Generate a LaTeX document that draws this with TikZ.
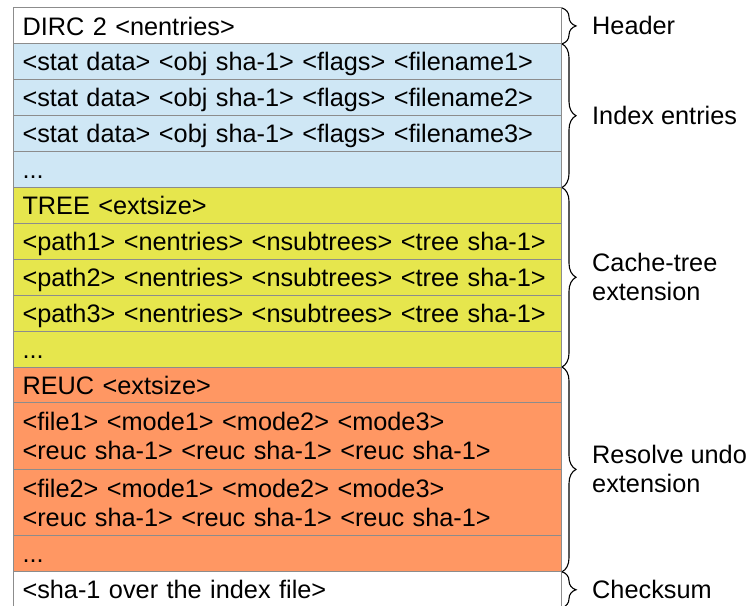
\documentclass[tikz,border=0pt]{standalone}
\usepackage{fontspec}
\setmainfont{Liberation Sans}
\usetikzlibrary{decorations.pathreplacing,calc}

\definecolor{entryblue}{RGB}{207,231,245}
\definecolor{treeyellow}{RGB}{230,230,77}
\definecolor{reucorange}{RGB}{255,151,99}
\definecolor{rulegray}{RGB}{140,140,140}

\begin{document}
\begin{tikzpicture}[x=1bp,y=-1bp,
  every node/.style={font=\fontsize{25.3bp}{29bp}\selectfont},
  field/.style={draw=rulegray, line width=1bp, anchor=north west, outer sep=0pt,
    minimum width=548bp, text width=529bp, inner xsep=9.5bp, inner ysep=0pt,
    align=left},
  one/.style={field, minimum height=35.9bp, text height=18.2bp, text depth=0pt},
  two/.style={field, minimum height=66.5bp},
  brace/.style={decorate, decoration={brace, amplitude=14bp, raise=1bp},
    line width=1.1bp},
  tag/.style={anchor=west, inner sep=0pt, align=left}
]
\clip (0,0) rectangle (751,606);

% file header
\node[one, fill=white] (hd) at (13,8) {DIRC 2 <nentries>};

% index entries
\node[one, fill=entryblue] (e1) at (hd.south west) {<stat data> <obj sha-1> <flags> <filename1>};
\node[one, fill=entryblue] (e2) at (e1.south west) {<stat data> <obj sha-1> <flags> <filename2>};
\node[one, fill=entryblue] (e3) at (e2.south west) {<stat data> <obj sha-1> <flags> <filename3>};
\node[one, fill=entryblue] (e4) at (e3.south west) {...};

% cache-tree extension
\node[one, fill=treeyellow] (t0) at (e4.south west) {TREE <extsize>};
\node[one, fill=treeyellow] (t1) at (t0.south west) {<path1> <nentries> <nsubtrees> <tree sha-1>};
\node[one, fill=treeyellow] (t2) at (t1.south west) {<path2> <nentries> <nsubtrees> <tree sha-1>};
\node[one, fill=treeyellow] (t3) at (t2.south west) {<path3> <nentries> <nsubtrees> <tree sha-1>};
\node[one, fill=treeyellow] (t4) at (t3.south west) {...};

% resolve undo extension
\node[one, fill=reucorange] (u0) at (t4.south west) {REUC <extsize>};
\node[two, fill=reucorange] (u1) at (u0.south west) {<file1> <mode1> <mode2> <mode3>\\<reuc sha-1> <reuc sha-1> <reuc sha-1>};
\node[two, fill=reucorange] (u2) at (u1.south west) {<file2> <mode1> <mode2> <mode3>\\<reuc sha-1> <reuc sha-1> <reuc sha-1>};
\node[one, fill=reucorange] (u3) at (u2.south west) {...};

% trailing checksum
\node[one, fill=white] (cs) at (u3.south west) {<sha-1 over the index file>};

% braces and their captions
\draw[brace] (hd.north east) -- (hd.south east);
\draw[brace] (e1.north east) -- (e4.south east);
\draw[brace] (t0.north east) -- (t4.south east);
\draw[brace] (u0.north east) -- (u3.south east);
\draw[brace] (cs.north east) -- (cs.south east);

\node[tag] (lh) at ($(hd.north east)!0.5!(hd.south east)+(31,0)$) {Header};
\node[tag] (le) at ($(e1.north east)!0.5!(e4.south east)+(31,0)$) {Index entries};
\node[tag] (lt) at ($(t0.north east)!0.5!(t4.south east)+(31,0)$) {Cache-tree\\extension};
\node[tag] (lu) at ($(u0.north east)!0.5!(u3.south east)+(31,0)$) {Resolve undo\\extension};
\node[tag] (lc) at ($(cs.north east)!0.5!(cs.south east)+(31,0)$) {Checksum};
\end{tikzpicture}
\end{document}
